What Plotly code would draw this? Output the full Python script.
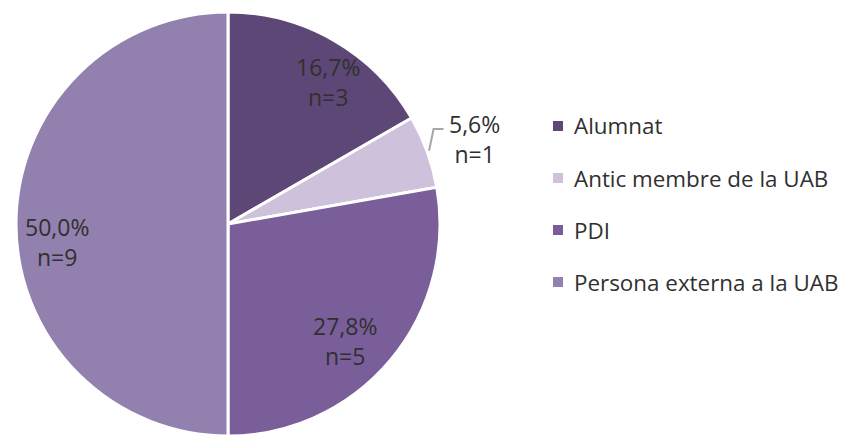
import math
import plotly.graph_objects as go

categories = ["Alumnat", "Antic membre de la UAB", "PDI", "Persona externa a la UAB"]
counts = [3, 1, 5, 9]
pct_labels = ["16,7%", "5,6%", "27,8%", "50,0%"]
colors = ["#5D4776", "#CDC1DC", "#7A5E9A", "#9280AE"]

# label placement (radius fraction, angular tweak in degrees)
label_radius = [0.82, 1.23, 0.78, 0.81]
label_tweak = [5, 1, 5, -6]

# the page body has an 8px margin; work in window pixels and subtract it
OFF = 8
W, H = 850 - OFF, 436 - OFF
cx, cy, r = 228 - OFF, 224 - OFF, 212
font_family = "Open Sans"
text_color = "#303030"

fig = go.Figure(go.Pie(
    labels=categories,
    values=counts,
    textinfo="none",
    sort=False,
    direction="clockwise",
    rotation=0,
    marker=dict(colors=colors, line=dict(color="white", width=3)),
    domain=dict(x=[(cx - r) / W, (cx + r) / W], y=[(H - cy - r) / H, min(1, (H - cy + r) / H)]),
    showlegend=False,
    hoverinfo="label+value+percent",
))

def px_to_paper(x, y):
    return x / W, 1 - y / H

total = sum(counts)
cum = 0
for i, (n, p) in enumerate(zip(counts, pct_labels)):
    mid = (cum + n / 2) / total * 360
    cum += n
    ang = math.radians(mid + label_tweak[i])
    lx = cx + label_radius[i] * r * math.sin(ang)
    ly = cy - label_radius[i] * r * math.cos(ang)
    px, py = px_to_paper(lx, ly)
    fig.add_annotation(xref="paper", yref="paper", x=px, y=py,
                       text=f"{p}<br>n={n}", showarrow=False,
                       xanchor="center", yanchor="middle",
                       font=dict(family=font_family, size=23, color=text_color))
    if label_radius[i] > 1:
        a0 = math.radians(mid)
        sx = cx + (r + 2) * math.sin(a0)
        sy = cy - (r + 2) * math.cos(a0)
        ex, ey = lx - 31, ly - 10
        fig.add_shape(type="path", xref="paper", yref="paper",
                      path=f"M {sx / W} {1 - sy / H} L {(ex - 10) / W} {1 - ey / H} L {ex / W} {1 - ey / H}",
                      line=dict(color="#A6A6A6", width=2))

# manual legend
legend_y0 = 126 - OFF
legend_step = 52
lx0 = 553 - OFF
for i, (cat, col) in enumerate(zip(categories, colors)):
    y = legend_y0 + i * legend_step
    fig.add_shape(type="rect", xref="paper", yref="paper",
                  x0=lx0 / W, x1=(lx0 + 10) / W, y0=1 - (y + 5) / H, y1=1 - (y - 5) / H,
                  fillcolor=col, line=dict(width=0))
    fig.add_annotation(xref="paper", yref="paper", x=(lx0 + 19) / W, y=1 - y / H,
                       text=cat, showarrow=False, xanchor="left", yanchor="middle",
                       font=dict(family=font_family, size=22.4, color=text_color))

fig.update_layout(
    width=W, height=H,
    margin=dict(l=0, r=0, t=0, b=0),
    paper_bgcolor="white", plot_bgcolor="white",
)
fig.write_html("out.html")
